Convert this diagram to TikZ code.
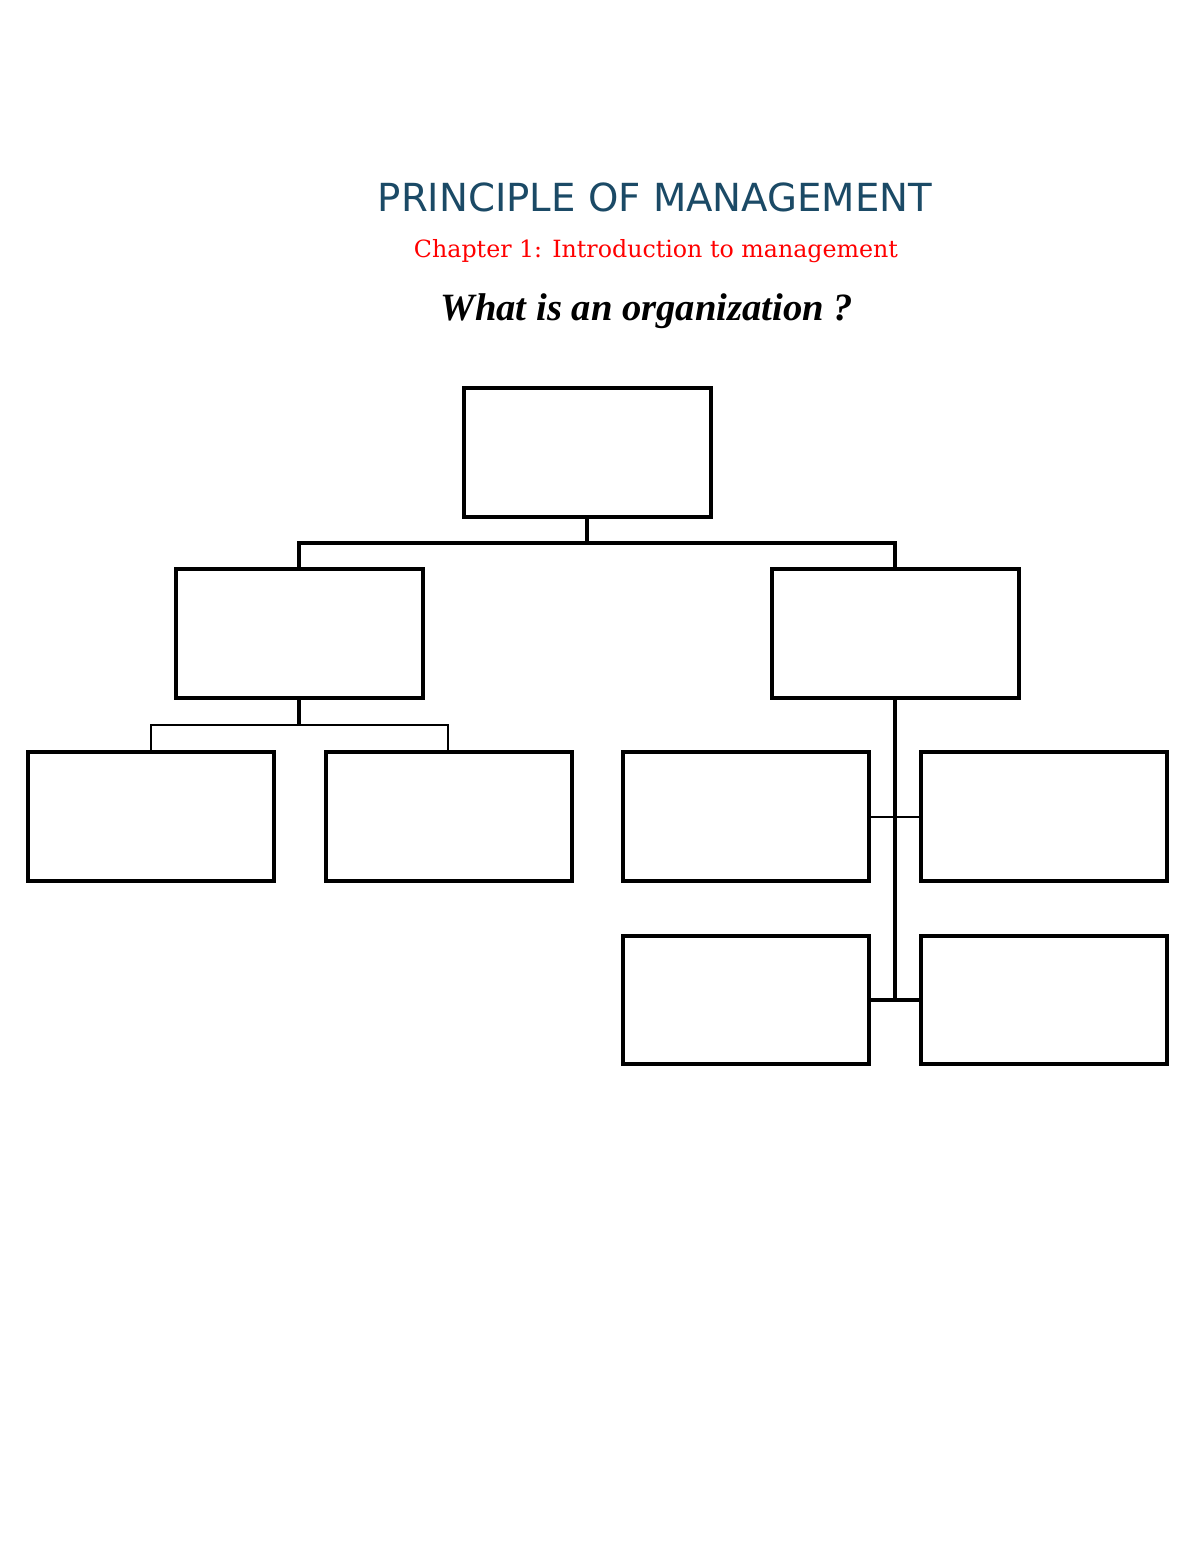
\documentclass[tikz,border=0pt]{standalone}
\usepackage{fontspec}
\setmainfont{Liberation Serif}
\newfontfamily\titlefont{DejaVu Sans}
\newfontfamily\chapfont{DejaVu Serif}
\definecolor{titleblue}{HTML}{1B4A66}
\begin{document}
\begin{tikzpicture}[x=0.02cm,y=-0.02cm,
  box/.style={draw,line width=1.8pt,inner sep=0},
  thick/.style={line width=1.8pt},
  thin/.style={line width=1.2pt}]
\useasboundingbox (0,0) rectangle (1200,1553);
\node[text=titleblue,font=\titlefont\fontsize{22}{26}\selectfont] (title) at (655,197) {PRINCIPLE OF MANAGEMENT};
\node[text=red,font=\chapfont\fontsize{13.5}{16}\selectfont] (chap) at (656,251) {Chapter 1: Introduction to management};
\node[font=\bfseries\itshape\fontsize{22}{26}\selectfont] (q) at (647,311) {What is an organization ?};
\draw[box] (464,388) rectangle (711,517);
\draw[box] (176,569) rectangle (423,698);
\draw[box] (772,569) rectangle (1019,698);
\draw[box] (28,752) rectangle (274,881);
\draw[box] (326,752) rectangle (572,881);
\draw[box] (623,752) rectangle (869,881);
\draw[box] (921,752) rectangle (1167,881);
\draw[box] (623,936) rectangle (869,1064);
\draw[box] (921,936) rectangle (1167,1064);
\draw[thick] (587,517) -- (587,543);
\draw[thick] (299,569) -- (299,543) -- (895,543) -- (895,569);
\draw[thick] (299,698) -- (299,725);
\draw[thin] (151,752) -- (151,725) -- (448,725) -- (448,752);
\draw[thick] (895,698) -- (895,1000);
\draw[thin] (869,817) -- (921,817);
\draw[thick] (869,1000) -- (921,1000);
\end{tikzpicture}
\end{document}
